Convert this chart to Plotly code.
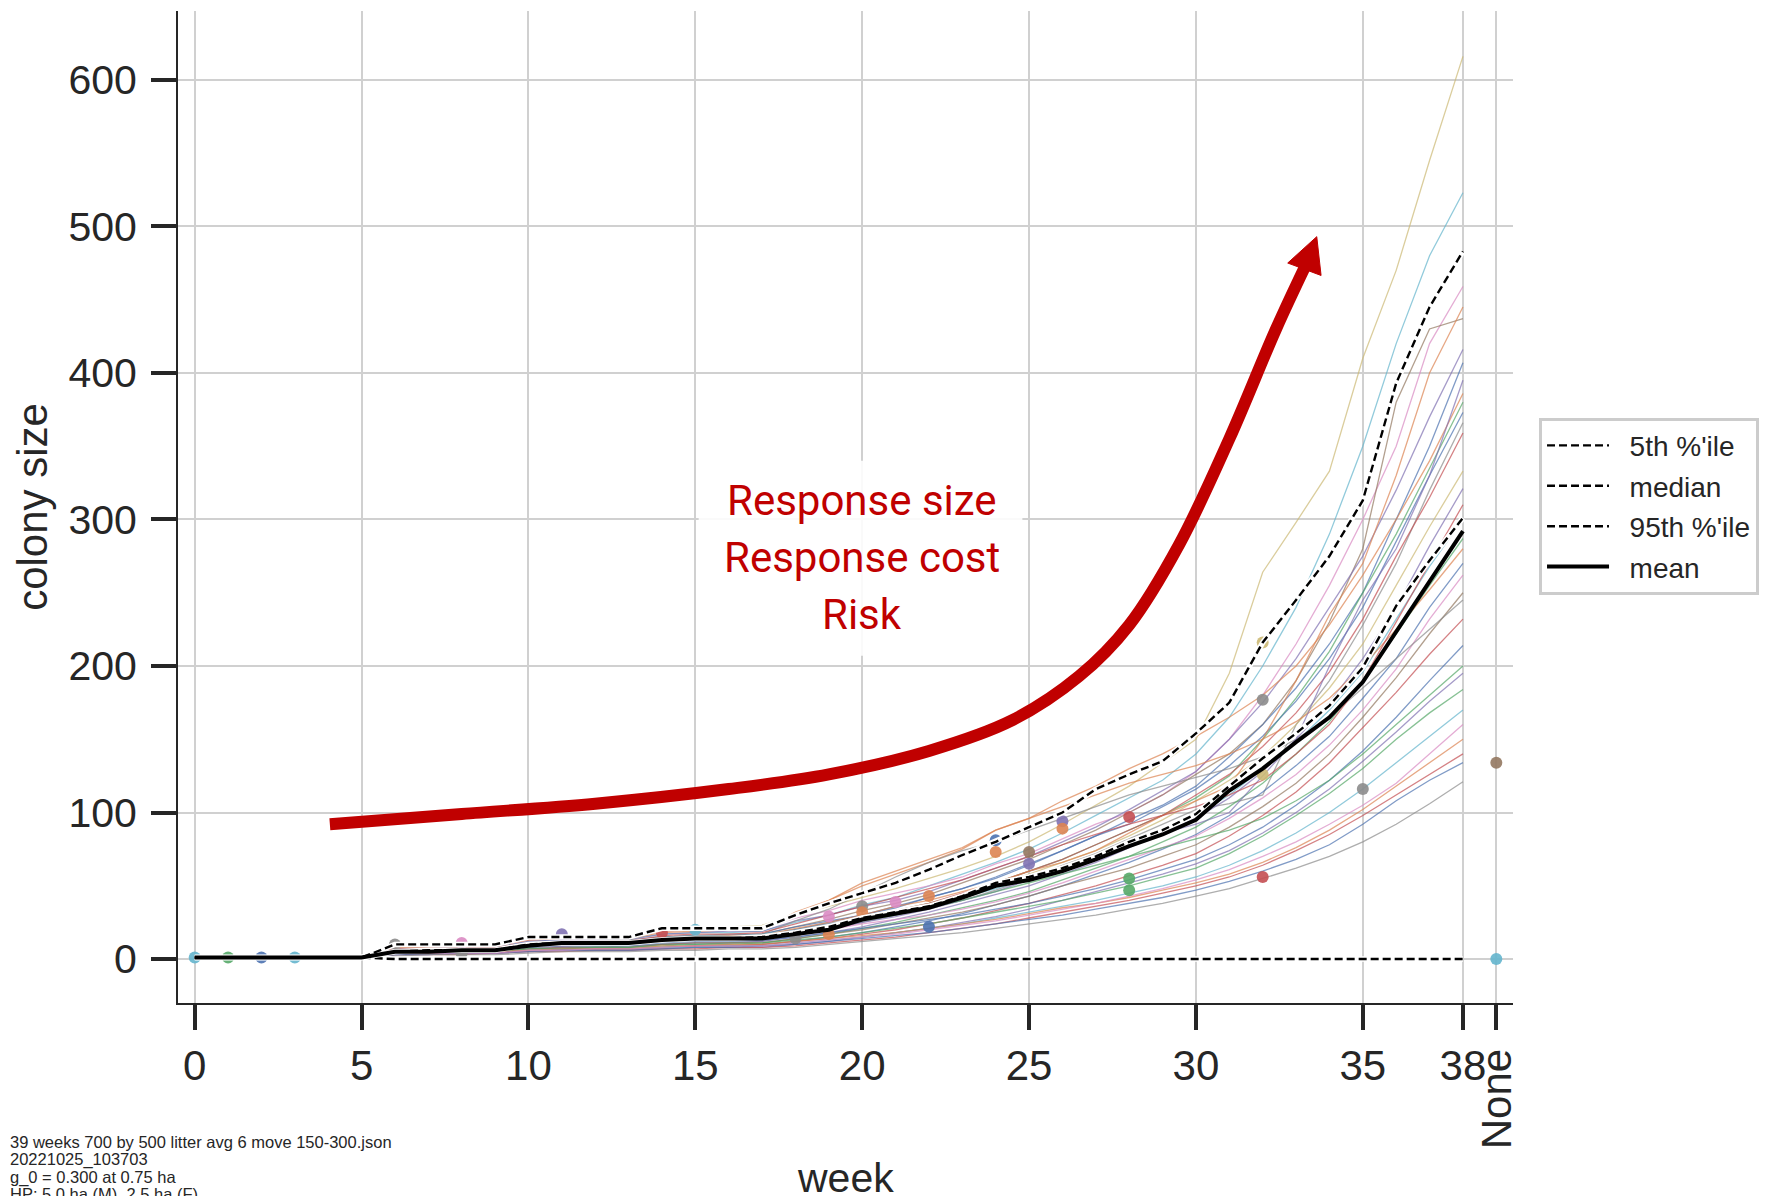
import plotly.graph_objects as go

# ---------------- data ----------------
week_labels = ['0', '1', '2', '3', '4', '5', '6', '7', '8', '9', '10', '11', '12', '13',
               '14', '15', '16', '17', '18', '19', '20', '21', '22', '23', '24', '25', '26',
               '27', '28', '29', '30', '31', '32', '33', '34', '35', '36', '37', '38']
all_categories = week_labels + ['None']
tick_cats = ['0', '5', '10', '15', '20', '25', '30', '35', '38', 'None']
tick_text = ['0', '5', '10', '15', '20', '25', '30', '35', '38', '']
y_ticks = [0, 100, 200, 300, 400, 500, 600]

# individual simulation runs (colony size per week 0..38)
run_01 = [1,1,1,1,1,1, 9,9,10,10, 15,16,16,16, 21,22,22,23, 30,36,42,48,55,62,70,80,92,105,118,134,150,195,264,298,333,410,470,545,616]
run_02 = [1,1,1,1,1,1, 7,7,8,8, 12,13,13,14, 17,18,18,19, 25,30,37,42,50,58,66,75,86,98,110,122,140,165,200,240,290,350,420,480,523]
run_03 = [1,1,1,1,1,1, 8,8,9,9, 13,14,14,15, 19,20,20,21, 28,33,40,45,50,56,65,72,82,92,100,112,128,150,180,215,255,300,350,420,459]
run_04 = [1,1,1,1,1,1, 6,6,7,7, 10,11,12,12, 15,16,16,17, 22,27,33,38,44,52,60,68,78,88,100,112,126,140,160,190,230,280,380,430,437]
run_05 = [1,1,1,1,1,1, 7,8,8,8, 12,13,13,13, 17,18,19,19, 26,30,36,40,46,54,62,70,80,90,102,115,128,150,175,205,240,275,320,370,416]
run_06 = [1,1,1,1,1,1, 5,6,6,6, 9,10,10,11, 13,14,14,15, 20,25,30,35,42,48,56,65,74,84,95,105,118,138,160,185,215,250,300,350,407]
run_07 = [1,1,1,1,1,1, 8,8,9,9, 13,14,14,14, 18,19,20,20, 32,40,50,58,66,75,88,96,108,118,130,140,152,165,180,200,228,262,300,340,386]
run_08 = [1,1,1,1,1,1, 5,5,6,6, 8,9,9,10, 12,13,13,14, 18,22,28,33,38,44,52,60,68,78,88,98,110,125,150,178,210,250,290,335,380]
run_09 = [1,1,1,1,1,1, 6,7,7,7, 11,12,12,12, 15,16,16,17, 22,26,30,36,42,48,55,64,74,84,92,104,116,132,152,176,205,240,285,330,373]
run_10 = [1,1,1,1,1,1, 4,5,5,5, 7,8,8,9, 10,11,11,12, 16,20,25,30,35,40,47,55,64,72,82,92,102,106,112,160,190,228,270,320,366]
run_11 = [1,1,1,1,1,1, 6,6,7,7, 10,11,11,12, 14,15,15,16, 20,24,28,33,38,45,52,60,68,78,88,98,112,126,145,168,196,232,275,315,359]
run_12 = [1,1,1,1,1,1, 5,6,6,6, 9,10,10,10, 12,13,14,14, 18,22,27,31,36,42,50,58,66,74,84,95,108,122,138,160,185,215,255,295,333]
run_13 = [1,1,1,1,1,1, 4,4,5,5, 7,8,8,8, 10,11,11,12, 15,18,22,27,32,38,44,50,58,66,76,86,96,110,128,150,175,205,240,282,321]
run_14 = [1,1,1,1,1,1, 6,7,7,7, 11,11,12,12, 15,16,16,17, 20,24,28,32,37,42,48,55,62,70,78,88,98,112,130,148,170,196,232,268,300]
run_15 = [1,1,1,1,1,1, 4,4,5,5, 7,7,8,8, 10,10,11,11, 14,17,21,25,30,35,40,46,54,62,70,80,90,104,120,140,162,190,222,255,287]
run_16 = [1,1,1,1,1,1, 8,9,9,9, 14,15,15,15, 19,20,20,21, 30,40,52,60,68,76,88,96,104,112,120,126,132,140,150,162,178,200,225,252,280]
run_17 = [1,1,1,1,1,1, 3,4,4,4, 6,7,7,7, 8,9,9,10, 12,15,18,22,26,31,37,43,50,58,66,75,85,98,114,132,152,178,205,240,270]
run_18 = [1,1,1,1,1,1, 5,6,6,6, 9,9,10,10, 12,13,13,14, 17,20,24,27,30,34,39,45,52,60,68,76,84,96,110,126,146,170,198,232,262]
run_19 = [1,1,1,1,1,1, 4,5,5,5, 7,8,8,8, 10,11,11,11, 14,17,20,24,28,32,37,43,50,56,62,70,78,90,104,120,140,165,192,222,250]
run_20 = [1,1,1,1,1,1, 7,7,8,8, 11,12,12,13, 15,16,17,17, 26,34,45,56,66,74,80,88,96,104,112,118,124,130,138,150,165,185,205,225,245]
run_21 = [1,1,1,1,1,1, 3,4,4,4, 6,6,7,7, 8,9,9,10, 12,14,17,20,24,28,33,38,44,50,57,64,72,84,98,114,134,158,182,208,232]
run_22 = [1,1,1,1,1,1, 5,5,5,6, 8,9,9,9, 11,12,12,13, 15,18,21,24,27,30,34,38,43,48,54,61,68,78,90,105,122,142,165,190,214]
run_23 = [1,1,1,1,1,1, 3,3,4,4, 5,6,6,6, 7,8,8,8, 10,12,15,18,21,25,29,34,40,46,52,58,65,74,86,100,116,135,155,176,195]
run_24 = [1,1,1,1,1,1, 4,4,5,5, 7,7,8,8, 9,10,10,11, 13,15,18,21,24,28,32,36,40,45,50,56,62,72,84,98,113,130,150,168,184]
run_25 = [1,1,1,1,1,1, 3,4,4,4, 6,6,6,7, 8,8,9,9, 11,13,15,18,21,24,28,32,36,40,45,50,56,64,74,86,100,116,134,152,170]
run_26 = [1,1,1,1,1,1, 4,4,4,5, 6,7,7,7, 9,9,10,10, 12,14,16,18,21,24,27,31,35,38,42,47,52,58,66,76,88,102,118,134,150]
run_27 = [1,1,1,1,1,1, 3,3,3,4, 5,5,6,6, 7,7,8,8, 9,11,13,15,18,21,24,28,32,36,40,45,50,56,64,74,85,98,112,126,140]
run_28 = [1,1,1,1,1,1, 3,3,4,4, 5,6,6,6, 7,8,8,9, 10,12,14,16,18,21,24,27,30,34,38,42,47,53,60,68,78,92,108,122,134]
run_29 = [1,1,1,1,1,1, 2,3,3,3, 4,5,5,5, 6,6,7,7, 8,10,12,14,16,18,21,24,27,30,34,38,43,48,55,62,70,80,92,106,121]
run_30 = [1,1,1,1,1,1, 0,0,0,0, 0,0,0,0, 0,0,0,0, 0,0,0,0,0,0,0,0,0,0,0,0,0,0,0,0,0,0,0,0,0]
run_31 = [1,1,1,1,1,1, 1,1,0,0, 0,0,0,0, 0,0,0,0, 0,0,0,0,0,0,0,0,0,0,0,0,0,0,0,0,0,0,0,0,0]
run_32 = [1,1,1,1,1,1, 6,7,7,7, 10,11,11,12, 14,15,16,16, 21,25,30,36,40,46,52,60,66,74,86,98,108,118,150,190,235,270,330,400,445]
run_33 = [1,1,1,1,1,1, 5,5,6,6, 9,9,10,10, 12,13,13,14, 18,21,25,29,34,40,46,54,62,70,78,86,92,100,125,150,200,245,280,330,395]
run_34 = [1,1,1,1,1,1, 7,7,8,8, 11,12,12,12, 16,17,17,18, 24,30,36,42,48,54,62,70,78,85,92,98,104,112,122,140,160,190,230,270,310]
run_35 = [1,1,1,1,1,1, 6,6,6,7, 9,10,10,10, 13,13,14,14, 18,22,26,30,35,40,46,52,58,64,70,76,82,88,96,108,122,140,160,180,200]
run_36 = [1,1,1,1,1,1, 4,4,4,4, 6,6,7,7, 8,9,9,9, 11,13,15,17,20,23,26,30,34,38,43,48,54,61,70,80,92,105,120,140,160]

runs = [run_01, run_02, run_03, run_04, run_05, run_06, run_07, run_08, run_09, run_10,
        run_11, run_12, run_13, run_14, run_15, run_16, run_17, run_18, run_19, run_20,
        run_21, run_22, run_23, run_24, run_25, run_26, run_27, run_28, run_29, run_30,
        run_31, run_32, run_33, run_34, run_35, run_36]

# summary statistics per week
p5 = [1,1,1,1,1,1, 0,0,0,0, 0,0,0,0, 0,0,0,0, 0,0,0,0,0,0,0,0,0,0,0,0,0,0,0,0,0,0,0,0,0]
median = [1,1,1,1,1,1, 5,6,6,6, 10,11,11,11, 13,14,14,15, 18,22,28,32,36,43,52,56,62,70,80,88,99,118,137,154,173,199,241,272,301]
p95 = [1,1,1,1,1,1, 10,10,10,10, 15,15,15,15, 21,21,21,21, 30,38,45,52,61,71,80,90,100,116,126,135,154,175,216,245,275,313,393,445,483]
mean = [1,1,1,1,1,1, 5,5,6,6, 9,11,11,11, 13,14,14,14, 17,20,27,31,35,42,50,54,60,68,77,85,95,115,130,148,165,189,223,257,292]

# detection points
dot_weeks = ['0', '1', '2', '3', '6', '8', '8', '11', '14', '15', '18', '19', '19', '20', '20', '21',
             '22', '22', '24', '24', '25', '25', '26', '26', '28', '28', '28', '32', '32', '32', '32',
             '35', 'None', 'None']
dot_sizes = [1, 1, 1, 1, 10, 11, 4, 17, 18, 20, 14, 29, 17, 36, 32, 39,
             43, 22, 81, 73, 73, 65, 94, 89, 97, 55, 47, 216, 177, 126, 56,
             116, 134, 0]
dot_colors = ['#64B5CD', '#55A868', '#4C72B0', '#64B5CD', '#8C8C8C', '#DA8BC3', '#8C8C8C', '#8172B3',
              '#C44E52', '#64B5CD', '#8C8C8C', '#DA8BC3', '#DD8452', '#8C8C8C', '#DD8452', '#DA8BC3',
              '#DD8452', '#4C72B0', '#4C72B0', '#DD8452', '#937860', '#8172B3', '#8172B3', '#DD8452',
              '#C44E52', '#55A868', '#55A868', '#CCB974', '#8C8C8C', '#CCB974', '#C44E52',
              '#8C8C8C', '#937860', '#64B5CD']

run_colors = ['#CCB974', '#64B5CD', '#DA8BC3', '#937860', '#8172B3', '#4C72B0', '#DD8452', '#55A868',
              '#4C72B0', '#8C8C8C', '#C44E52', '#CCB974', '#8172B3', '#64B5CD', '#55A868', '#DD8452',
              '#4C72B0', '#DA8BC3', '#937860', '#8C8C8C', '#C44E52', '#4C72B0', '#8172B3', '#55A868',
              '#64B5CD', '#DD8452', '#C44E52', '#4C72B0', '#8C8C8C', '#64B5CD', '#55A868',
              '#DD8452', '#8172B3', '#C44E52', '#55A868', '#DA8BC3']

# annotation arrow (drawn on an overlay linear axis, week units)
arrow_x = [4.05, 8, 12, 16, 19, 22, 24.5, 26.5, 28, 29.5, 31, 32.4, 33.3]
arrow_y = [92, 99, 106, 116, 126, 142, 163, 193, 228, 283, 355, 430, 474]
head_x = [33.62, 32.75, 33.75, 33.62]
head_y = [493, 475, 466.5, 493]
text_lines = ['Response size', 'Response cost', 'Risk']
text_y = [313, 274, 235]

info_lines = ['39 weeks 700 by 500 litter avg 6 move 150-300.json',
              '20221025_103703',
              'g_0 = 0.300 at 0.75 ha',
              'HP: 5.0 ha (M), 2.5 ha (F)']

# ---------------- figure ----------------
FONT = 'Liberation Sans, Arial, sans-serif'
DARK = '#262626'
fig = go.Figure()

for run, col in zip(runs, run_colors):
    fig.add_trace(go.Scatter(x=week_labels, y=run, mode='lines',
                             line=dict(color=col, width=1.3), opacity=0.7,
                             showlegend=False, hoverinfo='skip'))

fig.add_trace(go.Scatter(x=dot_weeks, y=dot_sizes, mode='markers',
                         marker=dict(color=dot_colors, size=12, opacity=0.9, line=dict(width=0)),
                         showlegend=False))

dash = '8px,4px'
pad = '\u00a0\u00a0'
for name, vals in [("5th %'ile", p5), ('median', median), ("95th %'ile", p95)]:
    fig.add_trace(go.Scatter(x=week_labels, y=vals, mode='lines',
                             line=dict(color='white', width=5.5),
                             showlegend=False, hoverinfo='skip'))
    fig.add_trace(go.Scatter(x=week_labels, y=vals, mode='lines', name=pad + name,
                             legendgroup=name,
                             line=dict(color='black', width=2.4, dash=dash)))
fig.add_trace(go.Scatter(x=week_labels, y=mean, mode='lines', name=pad + 'mean',
                         legendgroup='mean', line=dict(color='black', width=4)))

# red arrow
fig.add_trace(go.Scatter(x=arrow_x, y=arrow_y, xaxis='x2', mode='lines',
                         line=dict(color='#C00000', width=12, shape='spline', smoothing=1.0),
                         showlegend=False, hoverinfo='skip'))
fig.add_trace(go.Scatter(x=head_x, y=head_y, xaxis='x2', mode='lines', fill='toself',
                         fillcolor='#C00000', line=dict(color='#C00000', width=1),
                         showlegend=False, hoverinfo='skip'))

shapes = [dict(type='rect', xref='x2', yref='y', x0=15.1, x1=24.8, y0=207, y1=340,
               fillcolor='rgba(255,255,255,0.88)', line=dict(width=0), layer='above')]

annotations = []
for t, yv in zip(text_lines, text_y):
    annotations.append(dict(xref='x2', yref='y', x=20, y=yv, text=t, showarrow=False,
                            font=dict(family='Roboto, sans-serif', size=42, color='#C00000'),
                            xanchor='center', yanchor='middle'))
annotations.append(dict(xref='x', yref='paper', x='None', y=0, yanchor='top', xanchor='center',
                        yshift=-44, text='None', textangle=-90, showarrow=False,
                        font=dict(family=FONT, size=42, color=DARK)))
annotations.append(dict(xref='paper', yref='paper', x=0.5, y=-0.176, text='week', showarrow=False,
                        xanchor='center', yanchor='middle', font=dict(family=FONT, size=41, color=DARK)))
annotations.append(dict(xref='paper', yref='paper', x=-0.1095, y=0.5, text='colony size', showarrow=False,
                        textangle=-90, xanchor='center', yanchor='middle',
                        font=dict(family=FONT, size=42, color=DARK)))
info_y = [-0.1406, -0.1577, -0.1758, -0.1925]
for t, yv in zip(info_lines, info_y):
    annotations.append(dict(xref='paper', yref='paper', x=-0.1273, y=yv, text=t, showarrow=False,
                            xanchor='left', yanchor='middle', font=dict(family=FONT, size=16.5, color=DARK)))

fig.update_layout(
    width=1760, height=1188,
    margin=dict(l=170, r=255, t=3, b=193, autoexpand=False),
    paper_bgcolor='white', plot_bgcolor='white',
    font=dict(family=FONT, color=DARK),
    xaxis=dict(type='category', categoryorder='array', categoryarray=all_categories,
               range=[-0.5, 39.5], tickmode='array', tickvals=tick_cats, ticktext=tick_text,
               showgrid=True, gridcolor='#d0d0d0', gridwidth=1.5,
               showline=True, linecolor=DARK, linewidth=2,
               ticks='outside', ticklen=25, tickwidth=3.5, tickcolor=DARK,
               tickfont=dict(family=FONT, size=42, color=DARK), zeroline=False),
    xaxis2=dict(overlaying='x', range=[-0.5, 39.5], visible=False, showgrid=False),
    yaxis=dict(range=[-30, 647], tickmode='array', tickvals=y_ticks,
               showgrid=True, gridcolor='#d0d0d0', gridwidth=1.5,
               showline=True, linecolor=DARK, linewidth=2,
               ticks='outside', ticklen=25, tickwidth=3.5, tickcolor=DARK,
               tickfont=dict(family=FONT, size=41, color=DARK), zeroline=False,
               ticklabelstandoff=6),
    legend=dict(x=1.0195, y=0.59, xanchor='left', yanchor='top',
                bgcolor='white', bordercolor='#cccccc', borderwidth=3,
                font=dict(family=FONT, size=28, color=DARK),
                traceorder='grouped', tracegroupgap=1, itemwidth=62),
    shapes=shapes,
    annotations=annotations,
    showlegend=True,
)

fig.write_html('out.html')
